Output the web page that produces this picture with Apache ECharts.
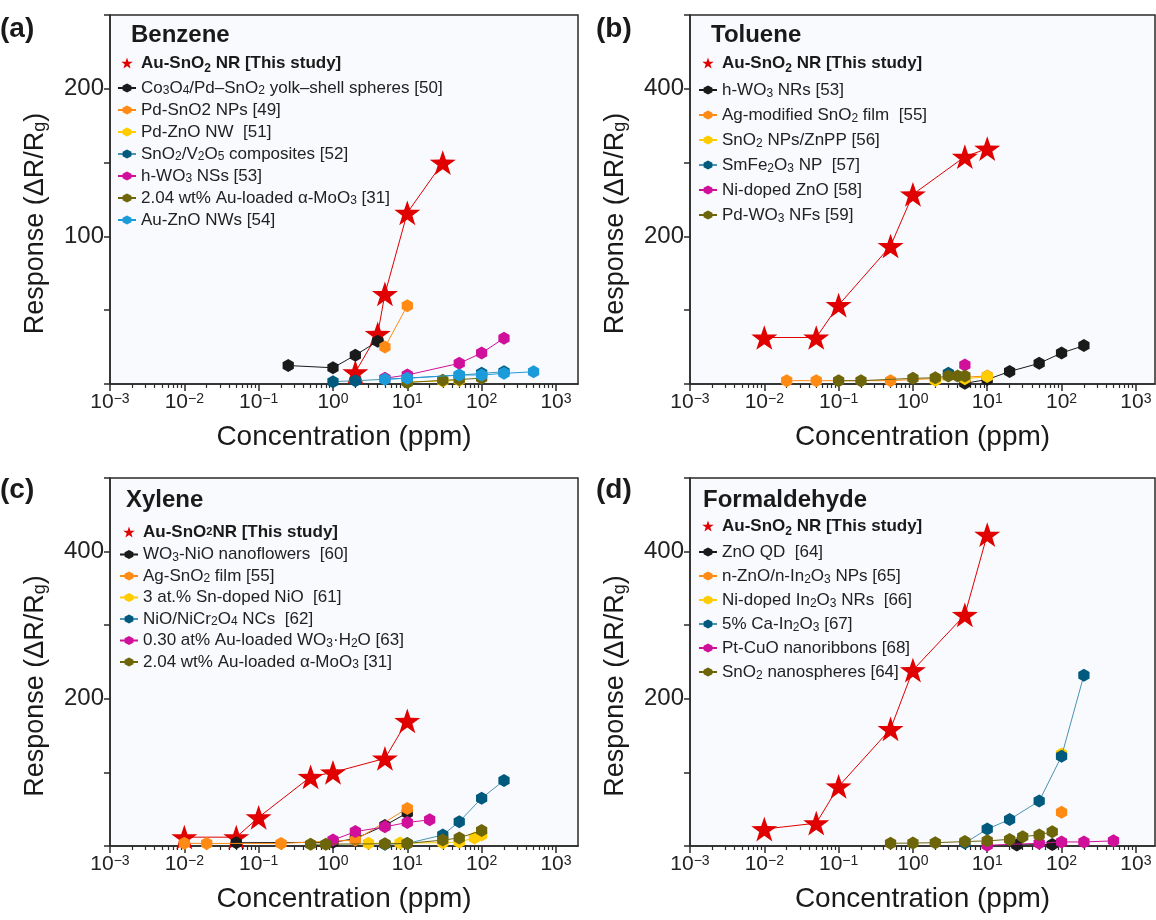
<!DOCTYPE html>
<html>
<head>
<meta charset="utf-8">
<script src="https://cdn.jsdelivr.net/npm/echarts@6/dist/echarts.min.js"></script>
<style>
html,body{margin:0;padding:0;background:#fff;}
#chart{width:1156px;height:920px;}
</style>
</head>
<body>
<div id="chart"></div>
<script>
// ---------- DATA ----------
// (a) Benzene  [concentration ppm, response]
const benzeneAuSnO2   = [[2,8],[4,34],[5,61],[10,116],[30,150]];
const benzeneCo3O4    = [[0.25,12.5],[1,11],[2,19.5],[4,29]];
const benzenePdSnO2   = [[5,25],[10,53]];
const benzenePdZnO    = [[10,1.5],[30,2],[50,2.5]];
const benzeneSnO2V2O5 = [[1,1.6],[2,2.2],[10,4],[50,6],[100,7.2],[200,8.3]];
const benzeneHWO3     = [[5,3.9],[10,6.1],[50,14],[100,21],[200,31]];
const benzeneAuMoO3   = [[10,1],[30,2.5],[50,3],[100,4]];
const benzeneAuZnO    = [[5,3.2],[10,3.9],[50,6.1],[100,6.1],[200,7.2],[500,8.3]];

// (b) Toluene
const tolueneAuSnO2   = [[0.01,63],[0.05,63],[0.1,107],[0.5,187],[1,257],[5,308],[10,319]];
const tolueneHWO3     = [[5,1],[10,6],[20,17],[50,28],[100,42],[200,52]];
const tolueneAgSnO2   = [[0.02,4.5],[0.05,4.5],[0.5,4.5],[10,10.8]];
const tolueneSnO2ZnPP = [[2,5],[5,7],[10,10]];
const tolueneSmFe2O3  = [[3,14.5]];
const tolueneNiZnO    = [[5,25.8]];
const toluenePdWO3    = [[0.1,4.5],[0.2,4.5],[1,7.7],[2,8.5],[3,10.8],[4,10.8],[5,10.8]];

// (c) Xylene
const xyleneAuSnO2    = [[0.01,12],[0.05,12],[0.1,39],[0.5,94],[1,100],[5,119],[10,170]];
const xyleneWO3NiO    = [[0.05,4.5],[1,5],[2,10],[5,28],[10,45]];
const xyleneAgSnO2    = [[0.01,3.7],[0.02,3.5],[0.2,3.5],[2,8],[10,51]];
const xyleneSnNiO     = [[3,3.7],[8,4],[30,4.5],[50,5.5],[80,11],[100,15]];
const xyleneNiCr2O4   = [[5,2.5],[10,3.5],[30,15],[50,33],[100,65],[200,89]];
const xyleneAuWO3H2O  = [[1,8],[2,19.6],[5,26],[10,32],[20,35.5]];
const xyleneAuMoO3    = [[0.5,2.5],[0.8,2.5],[5,3],[10,3.5],[30,8],[50,11],[100,21]];

// (d) Formaldehyde
const formAuSnO2      = [[0.01,23],[0.05,31],[0.1,81],[0.5,159],[1,239],[5,314],[10,423]];
const formZnOQD       = [[25,1.5],[75,2]];
const formZnOIn2O3    = [[100,46]];
const formNiIn2O3     = [[100,125]];
const formCaIn2O3     = [[5,4],[10,23],[20,36],[50,61],[100,122],[200,232]];
const formPtCuO       = [[10,1],[50,3.7],[100,5.5],[200,5.5],[500,7]];
const formSnO2Sph     = [[0.5,3.7],[1,4],[2,4.5],[5,6],[10,7],[20,9],[30,12.7],[50,15],[75,19.5]];

// axis ticks
const xMajorTicks = [0.001,0.01,0.1,1,10,100,1000];
const xMinorTicks = [];
[0.001,0.01,0.1,1,10,100,1000].forEach(d=>{for(let k=2;k<=9;k++){xMinorTicks.push(+(d*k).toPrecision(3));}});
const yLabelsA = [100,200];
const yLabelsOther = [200,400];

// ---------- STYLE ----------
const FONT = '"Liberation Sans", Arial, sans-serif';
const HEX = 'path://M50 0 L93.3 25 L93.3 75 L50 100 L6.7 75 L6.7 25 Z';
const STAR = 'path://M50 0 L61.8 35.1 L98.9 35.5 L69.1 57.6 L80.3 93 L50 71.5 L19.7 93 L30.9 57.6 L1.1 35.5 L38.2 35.1 Z';
const C = {
  red:'#e00000', black:'#1a1a1a', orange:'#ff8a14', yellow:'#ffcc00',
  teal:'#005a7d', magenta:'#d0109a', olive:'#6d650a', cyan:'#1c9bdb'
};
const lineOf = {teal:'#4a93b3'};

const grids = [
  {left:110, top:15,  width:468, height:369, xmax:1980, ymax:250, yint:50,  ylabels:yLabelsA},
  {left:690, top:15,  width:465, height:369, xmax:1810, ymax:500, yint:100, ylabels:yLabelsOther},
  {left:110, top:478, width:468, height:368, xmax:1980, ymax:500, yint:100, ylabels:yLabelsOther},
  {left:690, top:478, width:465, height:368, xmax:1810, ymax:500, yint:100, ylabels:yLabelsOther}
];

const labelMap = {
  'Au-SnO2 NR [This study]':'{b|Au-SnO}{bs|2}{b| NR [This study]}',
  'Au-SnO2NR [This study]':'{b|Au-SnO}{bs2|2}{b|NR [This study]}',
  'Co3O4/Pd–SnO2 yolk–shell spheres [50]':'Co{s|3}O{s|4}/Pd–SnO{s|2} yolk–shell spheres [50]',
  'Pd-SnO2 NPs [49]':'Pd-SnO2 NPs [49]',
  'Pd-ZnO NW [51]':'Pd-ZnO NW  [51]',
  'SnO2/V2O5 composites [52]':'SnO{s|2}/V{s|2}O{s|5} composites [52]',
  'h-WO3 NSs [53]':'h-WO{s|3} NSs [53]',
  '2.04 wt% Au-loaded α-MoO3 [31]':'2.04 wt% Au-loaded α-MoO{s|3} [31]',
  'Au-ZnO NWs [54]':'Au-ZnO NWs [54]',
  'h-WO3 NRs [53]':'h-WO{d|3} NRs [53]',
  'Ag-modified SnO2 film [55]':'Ag-modified SnO{d|2} film  [55]',
  'SnO2 NPs/ZnPP [56]':'SnO{d|2} NPs/ZnPP [56]',
  'SmFe2O3 NP [57]':'SmFe{d|2}O{d|3} NP  [57]',
  'Ni-doped ZnO [58]':'Ni-doped ZnO [58]',
  'Pd-WO3 NFs [59]':'Pd-WO{d|3} NFs [59]',
  'WO3-NiO nanoflowers [60]':'WO{s|3}-NiO nanoflowers  [60]',
  'Ag-SnO2 film [55]':'Ag-SnO{s|2} film [55]',
  '3 at.% Sn-doped NiO [61]':'3 at.% Sn-doped NiO  [61]',
  'NiO/NiCr2O4 NCs [62]':'NiO/NiCr{s|2}O{s|4} NCs  [62]',
  '0.30 at% Au-loaded WO3·H2O [63]':'0.30 at% Au-loaded WO{s|3}·H{s|2}O [63]',
  'ZnO QD [64]':'ZnO QD  [64]',
  'n-ZnO/n-In2O3 NPs [65]':'n-ZnO/n-In{d|2}O{d|3} NPs [65]',
  'Ni-doped In2O3 NRs [66]':'Ni-doped In{d|2}O{d|3} NRs  [66]',
  '5% Ca-In2O3 [67]':'5% Ca-In{d|2}O{d|3} [67]',
  'Pt-CuO nanoribbons [68]':'Pt-CuO nanoribbons [68]',
  'SnO2 nanospheres [64]':'SnO{d|2} nanospheres [64]'
};

const panels = [
  [
    ['Au-SnO2 NR [This study]', benzeneAuSnO2, 'red'],
    ['Co3O4/Pd–SnO2 yolk–shell spheres [50]', benzeneCo3O4, 'black'],
    ['Pd-SnO2 NPs [49]', benzenePdSnO2, 'orange'],
    ['Pd-ZnO NW [51]', benzenePdZnO, 'yellow'],
    ['SnO2/V2O5 composites [52]', benzeneSnO2V2O5, 'teal'],
    ['h-WO3 NSs [53]', benzeneHWO3, 'magenta'],
    ['2.04 wt% Au-loaded α-MoO3 [31]', benzeneAuMoO3, 'olive'],
    ['Au-ZnO NWs [54]', benzeneAuZnO, 'cyan']
  ],
  [
    ['Au-SnO2 NR [This study]', tolueneAuSnO2, 'red'],
    ['h-WO3 NRs [53]', tolueneHWO3, 'black'],
    ['Ag-modified SnO2 film [55]', tolueneAgSnO2, 'orange'],
    ['SnO2 NPs/ZnPP [56]', tolueneSnO2ZnPP, 'yellow'],
    ['SmFe2O3 NP [57]', tolueneSmFe2O3, 'teal'],
    ['Ni-doped ZnO [58]', tolueneNiZnO, 'magenta'],
    ['Pd-WO3 NFs [59]', toluenePdWO3, 'olive']
  ],
  [
    ['Au-SnO2NR [This study]', xyleneAuSnO2, 'red'],
    ['WO3-NiO nanoflowers [60]', xyleneWO3NiO, 'black'],
    ['Ag-SnO2 film [55]', xyleneAgSnO2, 'orange'],
    ['3 at.% Sn-doped NiO [61]', xyleneSnNiO, 'yellow'],
    ['NiO/NiCr2O4 NCs [62]', xyleneNiCr2O4, 'teal'],
    ['0.30 at% Au-loaded WO3·H2O [63]', xyleneAuWO3H2O, 'magenta'],
    ['2.04 wt% Au-loaded α-MoO3 [31]', xyleneAuMoO3, 'olive']
  ],
  [
    ['Au-SnO2 NR [This study]', formAuSnO2, 'red'],
    ['ZnO QD [64]', formZnOQD, 'black'],
    ['n-ZnO/n-In2O3 NPs [65]', formZnOIn2O3, 'orange'],
    ['Ni-doped In2O3 NRs [66]', formNiIn2O3, 'yellow'],
    ['5% Ca-In2O3 [67]', formCaIn2O3, 'teal'],
    ['Pt-CuO nanoribbons [68]', formPtCuO, 'magenta'],
    ['SnO2 nanospheres [64]', formSnO2Sph, 'olive']
  ]
];

const legendPos = [
  {left:117, top:51,  lh:18, gap:4,   blh:24},
  {left:698, top:51,  lh:20, gap:5,   blh:24},
  {left:119, top:522, lh:18, gap:3.5, blh:20},
  {left:698, top:514, lh:20, gap:4,   blh:24}
];

const richText = (lh, blh) => ({
  b:{fontWeight:'bold', fontSize:17, fontFamily:FONT, color:'#1a1a1a', lineHeight:blh},
  bs:{fontWeight:'bold', fontSize:12, fontFamily:FONT, color:'#1a1a1a', verticalAlign:'bottom', lineHeight:blh-6},
  bs2:{fontWeight:'bold', fontSize:11, fontFamily:FONT, color:'#1a1a1a', lineHeight:blh},
  s:{fontSize:12, fontFamily:FONT, color:'#222', verticalAlign:'bottom', lineHeight:lh-3},
  d:{fontSize:12, fontFamily:FONT, color:'#222', verticalAlign:'bottom', lineHeight:lh-6}
});

const xAxes = [], yAxes = [], series = [], legends = [], gridOpts = [];
grids.forEach((g, i) => {
  gridOpts.push({left:g.left, top:g.top, width:g.width, height:g.height, show:true,
    backgroundColor:'#f9fafd', borderColor:'#2a2a2a', borderWidth:1.5});
  xAxes.push({
    type:'log', gridIndex:i, position:'bottom', min:0.001, max:g.xmax, logBase:10,
    axisLine:{show:true, onZero:false, lineStyle:{color:'#2a2a2a', width:1.5}},
    axisTick:{show:true, inside:false, length:7, customValues:xMajorTicks, lineStyle:{color:'#2a2a2a', width:1.5}},
    axisLabel:{show:true, margin:8, customValues:xMajorTicks, color:'#222', fontFamily:FONT, fontSize:21,
      formatter:(v)=>{const e=Math.round(Math.log10(v)); return '10{sup|'+(e<0?'−'+(-e):e)+'}';},
      rich:{sup:{fontSize:14, fontFamily:FONT, color:'#222', verticalAlign:'top', lineHeight:14}}},
    splitLine:{show:false},
    name:'Concentration (ppm)', nameLocation:'middle', nameGap:39,
    nameTextStyle:{fontSize:28, fontFamily:FONT, color:'#1a1a1a'}
  });
  xAxes.push({
    type:'log', gridIndex:i, position:'bottom', offset:0, min:0.001, max:g.xmax, logBase:10,
    axisLine:{show:false},
    axisTick:{show:true, inside:false, length:4, customValues:xMinorTicks, lineStyle:{color:'#2a2a2a', width:1.2}},
    axisLabel:{show:false}, splitLine:{show:false}
  });
  yAxes.push({
    type:'value', gridIndex:i, min:0, max:g.ymax, interval:g.yint,
    axisLine:{show:true, onZero:false, lineStyle:{color:'#2a2a2a', width:1.5}},
    axisTick:{show:true, inside:false, length:6, lineStyle:{color:'#2a2a2a', width:1.5}},
    axisLabel:{show:true, margin:6, color:'#222', fontFamily:FONT, fontSize:24,
      formatter:(v)=> g.ylabels.indexOf(v) >= 0 ? String(v) : ''},
    splitLine:{show:false},
    name:'Response (ΔR/R{sub|g})', nameLocation:'middle', nameGap:61, nameRotate:90,
    nameTextStyle:{fontSize:27, fontFamily:FONT, color:'#1a1a1a', padding:[0,48,0,0],
      rich:{sub:{fontSize:18, fontFamily:FONT, color:'#1a1a1a', verticalAlign:'bottom', lineHeight:22}}}
  });
  const lp = legendPos[i];
  const names = [];
  panels[i].forEach(([name, data, col], k) => {
    const isStar = col === 'red';
    series.push({
      type:'line', name, data, xAxisIndex:i*2, yAxisIndex:i,
      symbol: isStar ? STAR : HEX, symbolSize: isStar ? 26 : 13,
      symbolKeepAspect:true,
      itemStyle:{color:C[col]},
      lineStyle:{color:lineOf[col] || C[col], width:1},
      emphasis:{disabled:true}, clip:false, z: 2 + k
    });
    names.push(isStar ? {name, icon:STAR, itemStyle:{color:C.red}} : {name});
  });
  legends.push({
    orient:'vertical', left:lp.left, top:lp.top, itemGap:lp.gap, itemWidth:18, itemHeight:11,
    padding:0, data:names, selectedMode:false,
    formatter:(n)=> labelMap[n] || n,
    textStyle:{fontSize:17, fontFamily:FONT, color:'#222', lineHeight:lp.lh, rich:richText(lp.lh, lp.blh)}
  });
});

const titles = [
  {text:'(a)', left:0, top:15},
  {text:'(b)', left:596, top:15},
  {text:'(c)', left:0, top:476},
  {text:'(d)', left:596, top:476},
  {text:'Benzene', left:131, top:23},
  {text:'Toluene', left:711, top:23},
  {text:'Xylene', left:126, top:488},
  {text:'Formaldehyde', left:703, top:488}
].map(t => ({...t, padding:0, textStyle:{fontSize: t.text.startsWith('(') ? 28 : 24, fontWeight:'bold', fontFamily:FONT, color:'#1a1a1a'}}));

const chart = echarts.init(document.getElementById('chart'), null, {renderer:'canvas'});
chart.setOption({
  animation:false,
  backgroundColor:'#ffffff',
  title:titles,
  grid:gridOpts,
  xAxis:xAxes,
  yAxis:yAxes,
  legend:legends,
  series:series
});
</script>
</body>
</html>
